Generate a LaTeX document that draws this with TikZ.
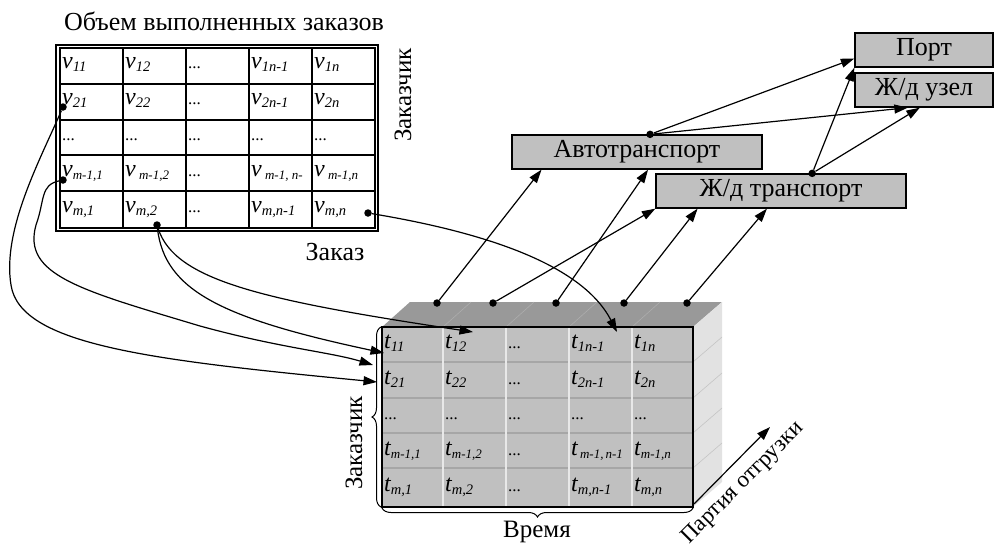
\documentclass[tikz,border=0pt]{standalone}
\usepackage{fontspec}
\setmainfont{Liberation Serif}
\usetikzlibrary{arrows.meta,decorations.pathreplacing,calc}
\definecolor{boxgray}{HTML}{C0C0C0}
\definecolor{topgray}{HTML}{999999}
\definecolor{sidegray}{HTML}{E2E2E2}
\definecolor{rowline}{HTML}{A6A6A6}
\definecolor{colline}{HTML}{E8E8E8}
\definecolor{topline}{HTML}{ADADAD}
\definecolor{sideline}{HTML}{C4C4C4}
\newcommand\subi[2]{#1\raisebox{-3pt}{\fontsize{14.5}{14.5}\selectfont #2}}
\newcommand\subn[2]{#1\raisebox{-3pt}{\fontsize{13}{13}\selectfont #2}}
\newcommand\dd{{\upshape\fontsize{17}{17}\selectfont ...}}
\begin{document}
\begin{tikzpicture}[x=1pt,y=-1pt,
  lbl/.style={font=\fontsize{26}{26}\selectfont, inner sep=0},
  boxn/.style={draw, line width=1.3pt, fill=boxgray, minimum height=34pt, inner sep=0, font=\fontsize{26}{26}\selectfont},
  arr/.style={line width=1.2pt, -{Triangle[length=13.5pt,width=9pt]}},
  dotn/.style={circle, fill=black, inner sep=0, minimum size=7.5pt},
  cell/.style={anchor=base west, inner sep=0, font=\fontsize{24}{24}\selectfont\itshape},
  gridl/.style={line width=1.5pt},
  bracel/.style={decorate, decoration={brace, amplitude=9pt}, line width=1pt}
]
\useasboundingbox (0,0) rectangle (995,546);

% ---------- table of volumes ----------
\node[lbl] (title) at (224,21) {Объем выполненных заказов};
\draw[line width=1.2pt] (56,45) rectangle (378,231);
\draw[gridl] (60,48) rectangle (375,228);
\foreach \x in {123,186,249,312} \draw[gridl] (\x,48) -- (\x,228);
\foreach \y in {84,120,155,191} \draw[gridl] (60,\y) -- (375,\y);

\foreach \cx/\c [count=\k] in {60/{\subi{v}{11}},123/{\subi{v}{12}},186/{\dd},249/{\subi{v}{1n-1}},312/{\subi{v}{1n}}}
  \node[cell] (va\k) at (\cx+2,68) {\c};
\foreach \cx/\c [count=\k] in {60/{\subi{v}{21}},123/{\subi{v}{22}},186/{\dd},249/{\subi{v}{2n-1}},312/{\subi{v}{2n}}}
  \node[cell] (vb\k) at (\cx+2,104) {\c};
\foreach \cx/\c [count=\k] in {60/{\dd},123/{\dd},186/{\dd},249/{\dd},312/{\dd}}
  \node[cell] (vc\k) at (\cx+2,140) {\c};
\foreach \cx/\c [count=\k] in {60/{\subn{v}{m-1,1}},123/{\subn{v}{ m-1,2}},186/{\dd},249/{\subn{v}{ m-1, n-}},312/{\subn{v}{ m-1,n}}}
  \node[cell] (vd\k) at (\cx+2,176) {\c};
\foreach \cx/\c [count=\k] in {60/{\subi{v}{m,1}},123/{\subi{v}{m,2}},186/{\dd},249/{\subi{v}{m,n-1}},312/{\subi{v}{m,n}}}
  \node[cell] (ve\k) at (\cx+2,212) {\c};

\node[lbl, font=\fontsize{25}{25}\selectfont, rotate=90] (cust1) at (403,95) {Заказчик};
\node[lbl] (order) at (335,252) {Заказ};

% ---------- cube ----------
\fill[topgray] (382,327) -- (410,302) -- (722,302) -- (693,327) -- cycle;
\foreach \x in {443,506,569,632} \draw[topline, line width=0.6pt] (\x,327) -- (\x+28,302);
\fill[sidegray] (693,327) -- (722,302) -- (722,482) -- (693,507) -- cycle;
\foreach \y in {362,398,433,468} \draw[sideline, line width=0.6pt] (693,\y) -- (722,\y-25);
\fill[boxgray] (382,327) rectangle (693,507);
\foreach \y in {362,398,433,468} \draw[rowline, line width=1.6pt] (382,\y) -- (693,\y);
\foreach \x in {443,506,569,632} \draw[colline, line width=1.6pt] (\x,327) -- (\x,507);
\draw[line width=1.5pt] (382,327) rectangle (693,507);

\foreach \cx/\c [count=\k] in {382/{\subi{t}{11}},443/{\subi{t}{12}},506/{\dd},569/{\subi{t}{1n-1}},632/{\subi{t}{1n}}}
  \node[cell] (ta\k) at (\cx+2,348) {\c};
\foreach \cx/\c [count=\k] in {382/{\subi{t}{21}},443/{\subi{t}{22}},506/{\dd},569/{\subi{t}{2n-1}},632/{\subi{t}{2n}}}
  \node[cell] (tb\k) at (\cx+2,384) {\c};
\foreach \cx/\c [count=\k] in {382/{\dd},443/{\dd},506/{\dd},569/{\dd},632/{\dd}}
  \node[cell] (tc\k) at (\cx+2,419) {\c};
\foreach \cx/\c [count=\k] in {382/{\subn{t}{m-1,1}},443/{\subn{t}{m-1,2}},506/{\dd},569/{\subn{t}{\,m-1,\,n-1}},632/{\subn{t}{m-1,n}}}
  \node[cell] (td\k) at (\cx+2,455) {\c};
\foreach \cx/\c [count=\k] in {382/{\subi{t}{m,1}},443/{\subi{t}{m,2}},506/{\dd},569/{\subi{t}{m,n-1}},632/{\subi{t}{m,n}}}
  \node[cell] (te\k) at (\cx+2,491) {\c};

\draw[bracel] (381,507) -- (381,327);
\draw[bracel] (693,508) -- (382,508);
\node[lbl, font=\fontsize{25}{25}\selectfont, rotate=90] (cust2) at (354,443) {Заказчик};
\node[lbl, font=\fontsize{25}{25}\selectfont] (time) at (537,532) {Время};

\coordinate (corner) at (694,504);
\coordinate (pend) at (770,427);
\draw[arr] (corner) -- (pend);
\node[lbl, font=\fontsize{23}{23}\selectfont, rotate=45] (party) at (743,483) {Партия отгрузки};

% ---------- transport boxes ----------
\node[boxn, minimum width=250pt] (auto) at (637,152) {Автотранспорт};
\node[boxn, minimum width=250pt] (zhdt) at (781,191) {Ж/д транспорт};
\node[boxn, minimum width=138pt] (port) at (924,50) {Порт};
\node[boxn, minimum width=138pt] (uzel) at (924,90) {Ж/д узел};

% ---------- dots ----------
\node[dotn] (c1) at (437,303) {};
\node[dotn] (c2) at (493,303) {};
\node[dotn] (c3) at (556,303) {};
\node[dotn] (c4) at (624,303) {};
\node[dotn] (c5) at (687,303) {};
\node[dotn] (ad) at ($(auto.north west)!0.552!(auto.north east)$) {};
\node[dotn] (zd) at ($(zhdt.north west)!0.624!(zhdt.north east)$) {};
\node[dotn] (d21) at (63,107) {};
\node[dotn] (dm1) at (63,180) {};
\node[dotn] (dm2) at (157,225) {};
\node[dotn] (dmn) at (368,213) {};

% ---------- straight arrows ----------
\draw[arr] (c1) -- ($(auto.south west)!0.12!(auto.south east)$);
\draw[arr] (c3) -- ($(auto.south west)!0.544!(auto.south east)$);
\draw[arr] (c2) -- (zhdt.south west);
\draw[arr] (c4) -- ($(zhdt.south west)!0.168!(zhdt.south east)$);
\draw[arr] (c5) -- ($(zhdt.south west)!0.444!(zhdt.south east)$);
\draw[arr] (ad) -- ($(port.north west)!0.74!(port.south west)$);
\draw[arr] (ad) -- ($(uzel.south west)!0.384!(uzel.south east)$);
\draw[arr] (zd) -- (port.south west);
\draw[arr] (zd) -- ($(uzel.south west)!0.47!(uzel.south east)$);

% ---------- curved arrows ----------
\coordinate (tA) at (377,382);
\coordinate (tB) at (373,365);
\coordinate (tC) at (384,353);
\coordinate (tD) at (473,332);
\coordinate (tE) at (617,332);
\draw[arr] (d21) .. controls (40,160) and (2,230) .. (11,285) .. controls (20,345) and (150,360) .. (tA);
\draw[arr] (dm1) .. controls (40,185) and (45,200) .. (36,225) .. controls (22,275) and (80,290) .. (200,326) .. controls (280,348) and (330,352) .. (tB);
\draw[arr] (dm2) .. controls (165,290) and (220,318) .. (tC);
\draw[arr] (dm2) .. controls (175,280) and (260,300) .. (tD);
\draw[arr] (dmn) .. controls (470,230) and (580,260) .. (tE);
\end{tikzpicture}
\end{document}
